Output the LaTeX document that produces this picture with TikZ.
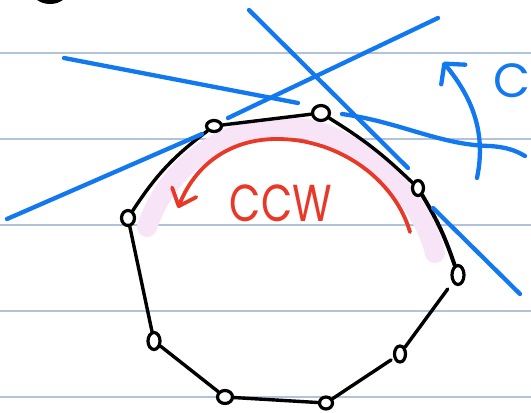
\documentclass[tikz,border=0pt]{standalone}
\usepackage{fontspec}
\setsansfont{Poppins}
\usetikzlibrary{arrows.meta,shapes.geometric}
\definecolor{ruleblue}{RGB}{178,194,216}
\definecolor{penblue}{RGB}{18,120,240}
\definecolor{penred}{RGB}{232,56,40}
\definecolor{marker}{RGB}{247,228,247}

\begin{document}
\begin{tikzpicture}[x=1pt,y=-1pt,
  vtx/.style={ellipse,draw=black,line width=3.2pt,fill=white,inner sep=0pt},
  edge/.style={line width=3.4pt,line cap=round},
  tan/.style={penblue,line width=4.3pt,line cap=round}]
\useasboundingbox (0,0) rectangle (531,413);
\fill[white] (0,0) rectangle (531,413);
\foreach \y in {53,139,225,311,397}
  \draw[ruleblue,line width=1.3pt] (0,\y)--(531,\y);
\begin{scope}
\clip (0,0) rectangle (531,413);
\draw[line width=4pt] (50,-13) ellipse (18 and 15);
\end{scope}
\draw[marker,line width=20pt,line cap=round] (147,227) .. controls (170,160) and (230,125) .. (290,127) .. controls (350,129) and (420,190) .. (435,253);
\draw[penred,line width=3.8pt,line cap=round,-{Straight Barb[round,length=15pt,width=26pt]}] (410,232) .. controls (395,180) and (340,140) .. (280,139) .. controls (230,138) and (195,165) .. (178,208);
\node[text=penred,font=\sffamily\fontsize{52}{52}\selectfont,xscale=.78] (ccw) at (281,203) {CCW};
\node[vtx,minimum width=15pt,minimum height=11pt] (v1) at (214,126) {};
\node[vtx,minimum width=17pt,minimum height=15pt] (v2) at (321,113) {};
\node[vtx,minimum width=11pt,minimum height=15pt] (v3) at (418,188) {};
\node[vtx,minimum width=12pt,minimum height=19pt] (v4) at (458,275) {};
\node[vtx,minimum width=11pt,minimum height=16pt] (v5) at (400,354) {};
\node[vtx,minimum width=13pt,minimum height=12pt] (v6) at (326,403) {};
\node[vtx,minimum width=15pt,minimum height=13pt] (v7) at (225,397) {};
\node[vtx,minimum width=12pt,minimum height=17pt] (v8) at (154,341) {};
\node[vtx,minimum width=13pt,minimum height=15pt] (v9) at (128,218) {};
\draw[edge] (v9) to[bend left=10] (v1);
\draw[edge] (v1) -- (v2);
\draw[edge] (v2) to[bend left=6] (v3);
\draw[edge,line width=4pt] (v3) to[bend left=6] (v4);
\draw[edge,shorten <=8pt] (v4) -- (v5);
\draw[edge,shorten <=3pt] (v5) -- (v6);
\draw[edge] (v6) -- (v7);
\draw[edge] (v7) -- (v8);
\draw[edge] (v8) -- (v9);
\draw[tan] (64,58) -- (298,103);
\draw[tan] (7,219) -- (202,134);
\draw[tan] (228,118) -- (438,18);
\draw[tan] (249,10) -- (408,168);
\draw[tan] (433,208) -- (520,294);
\draw[tan] (342,114) .. controls (400,122) and (440,145) .. (490,146) .. controls (505,147) and (515,150) .. (525,156);
\draw[tan,-{Straight Barb[round,length=14pt,width=31pt]}] (477,178) .. controls (487,130) and (470,95) .. (443,62);
\node[text=penblue,font=\sffamily\fontsize{48}{48}\selectfont] (lblc) at (512,81) {C};
\end{tikzpicture}
\end{document}
